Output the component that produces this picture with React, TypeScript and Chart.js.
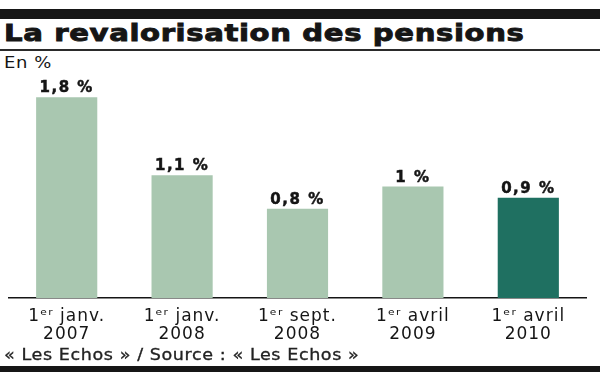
import React, { useEffect, useRef } from "react";
import { Chart, registerables } from "chart.js";

Chart.register(...registerables);

const categoryLines: string[][] = [
  ["1ᵉʳ janv.", "2007"],
  ["1ᵉʳ janv.", "2008"],
  ["1ᵉʳ sept.", "2008"],
  ["1ᵉʳ avril", "2009"],
  ["1ᵉʳ avril", "2010"],
];
const values: number[] = [1.8, 1.1, 0.8, 1, 0.9];
const valueLabels: string[] = ["1,8 %", "1,1 %", "0,8 %", "1 %", "0,9 %"];
const LIGHT = "#a9c7b0";
const DARK = "#1f7061";
const barColors: string[] = [LIGHT, LIGHT, LIGHT, LIGHT, DARK];

const TITLE = "La revalorisation des pensions";
const UNIT = "En %";
const SOURCE = "« Les Echos » / Source : « Les Echos »";

const FONT = '"DejaVu Sans", "Liberation Sans", Arial, sans-serif';

const spacingPlugin = {
  id: "spacing",
  beforeDraw(chart: any) {
    chart.ctx.letterSpacing = "1px";
  },
};

const valueLabelPlugin = {
  id: "valueLabels",
  afterDatasetsDraw(chart: any) {
    const ctx = chart.ctx;
    const meta = chart.getDatasetMeta(0);
    ctx.save();
    ctx.letterSpacing = "1.5px";
    ctx.font = `bold 15px ${FONT}`;
    ctx.fillStyle = "#151515";
    ctx.strokeStyle = "#151515";
    ctx.lineWidth = 0.5;
    ctx.textAlign = "center";
    ctx.textBaseline = "alphabetic";
    meta.data.forEach((bar: any, i: number) => {
      ctx.fillText(valueLabels[i], bar.x, bar.y - 5);
      ctx.strokeText(valueLabels[i], bar.x, bar.y - 5);
    });
    ctx.restore();
  },
};

function BarChart() {
  const ref = useRef<HTMLCanvasElement | null>(null);
  useEffect(() => {
    if (!ref.current) return;
    const chart = new Chart(ref.current, {
      type: "bar",
      data: {
        labels: categoryLines,
        datasets: [
          {
            data: values,
            backgroundColor: barColors,
            borderWidth: 0,
            barPercentage: 0.53,
            categoryPercentage: 1,
          },
        ],
      },
      options: {
        animation: false,
        responsive: false,
        layout: { padding: { left: 9, right: 14, top: 5, bottom: 0 } },
        plugins: {
          legend: { display: false },
          tooltip: { enabled: false },
          title: { display: false },
        },
        scales: {
          x: {
            type: "category",
            grid: { display: false, drawTicks: false },
            border: { display: true, color: "#151515", width: 1.5 },
            ticks: {
              color: "#151515",
              font: { family: FONT, size: 17, lineHeight: 1.06 },
              padding: 10,
              maxRotation: 0,
              autoSkip: false,
            },
            afterFit(scale: any) {
              scale.height = 50;
            },
          },
          y: {
            display: false,
            min: 0,
            max: 2.0,
          },
        },
      },
      plugins: [spacingPlugin, valueLabelPlugin],
    });
    return () => chart.destroy();
  }, []);
  return <canvas ref={ref} width={600} height={278} style={{ display: "block" }} />;
}

export default function App() {
  return (
    <div
      style={{
        position: "absolute",
        left: 0,
        top: 0,
        width: 600,
        height: 372,
        background: "#ffffff",
        overflow: "hidden",
        fontFamily: FONT,
        color: "#151515",
      }}
    >
      <div style={{ position: "absolute", left: 0, top: 9, width: 600, height: 10, background: "#161616" }} />
      <div
        style={{
          position: "absolute",
          left: 4,
          top: 20,
          fontSize: 23,
          lineHeight: "26px",
          fontWeight: 700,
          letterSpacing: "0.5px",
          whiteSpace: "nowrap",
          WebkitTextStroke: "0.9px #151515",
          transform: "scaleX(1.265)",
          transformOrigin: "0 0",
        }}
      >
        {TITLE}
      </div>
      <div style={{ position: "absolute", left: 0, top: 49, width: 600, height: 2, background: "#2a2a2a" }} />
      <div
        style={{
          position: "absolute",
          left: 4,
          top: 55,
          fontSize: 15,
          lineHeight: "17px",
          letterSpacing: "0.5px",
          whiteSpace: "nowrap",
          transform: "scaleX(1.2)",
          transformOrigin: "0 0",
        }}
      >
        {UNIT}
      </div>
      <div style={{ position: "absolute", left: 0, top: 70, width: 600, height: 278 }}>
        <BarChart />
      </div>
      <div
        style={{
          position: "absolute",
          left: 4,
          top: 347,
          fontSize: 15,
          lineHeight: "17px",
          letterSpacing: "0.5px",
          whiteSpace: "nowrap",
          color: "#222",
          WebkitTextStroke: "0.3px #222",
          transform: "scaleX(1.17)",
          transformOrigin: "0 0",
        }}
      >
        {SOURCE}
      </div>
      <div style={{ position: "absolute", left: 0, top: 366, width: 600, height: 6, background: "#161616" }} />
    </div>
  );
}
